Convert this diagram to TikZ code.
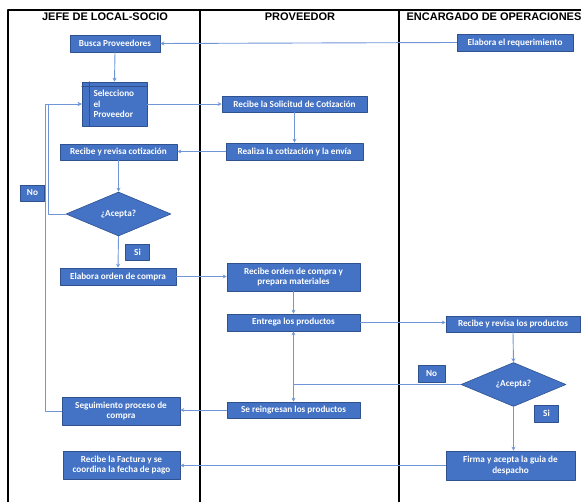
\documentclass[tikz,border=0pt]{standalone}
\usepackage{fontspec}
\setmainfont{Carlito}
\newfontfamily\headfont{Liberation Sans}
\usepackage{xcolor}
\usetikzlibrary{positioning,calc,shapes.geometric,arrows.meta}

\definecolor{boxblue}{RGB}{68,114,196}
\definecolor{boxedge}{RGB}{47,82,143}
\definecolor{linkblue}{RGB}{112,150,216}

\begin{document}
\begin{tikzpicture}[x=1pt,y=-1pt, font=\bfseries\fontsize{9.2}{10.5}\selectfont, line cap=round, line join=round]
		\useasboundingbox (0,0) rectangle (581,502);
		
		% ===== style =====
		\tikzset{
			proc/.style={draw=boxedge, fill=boxblue, text=white, line width=0.6pt, inner sep=1pt, align=center},
			lbl/.style={proc, minimum width=24, minimum height=16},
			dec/.style={proc, shape=diamond, minimum width=105, minimum height=44, inner sep=0pt},
			conn/.style={draw=linkblue, line width=0.9pt, -{Stealth[length=4pt,width=4pt]}},
			lane/.style={black, line width=2pt},
			title/.style={font=\headfont\bfseries\fontsize{11}{12}\selectfont}
		}
		
		% ===== carriles =====
		\draw[lane] (8,502) -- (8,10) -- (581,10);
		\draw[lane] (200,10) -- (200,502);
		\draw[lane] (399,10) -- (399,502);
		\node[title] (jefe) at (105,17) {JEFE DE LOCAL-SOCIO};
		\node[title] (prov) at (300,17) {PROVEEDOR};
		\node[title] (encarg) at (494,17) {ENCARGADO DE OPERACIONES};
		
		% ===== nodos =====
		\node[proc, minimum width=90, minimum height=17] (busca) at (115,43.5) {Busca Proveedores};
		\node[proc, minimum width=116, minimum height=17] (elabreq) at (515,42.5) {Elabora el requerimiento};
		\node[proc, minimum width=65, minimum height=44, text width=42, align=left] (selec) at (114.5,104) {Selecciono\\el\\Proveedor};
		\draw[boxedge, line width=0.6pt] ($(selec.north west)+(8,0)$) -- ($(selec.south west)+(8,0)$);
		\draw[boxedge, line width=0.6pt] ($(selec.north west)+(0,5)$) -- ($(selec.north east)+(0,5)$);
		\node[proc, minimum width=145, minimum height=16] (solic) at (294.5,104) {Recibe la Solicitud de Cotización};
		\node[proc, minimum width=137, minimum height=17] (realiza) at (294.5,151.5) {Realiza la cotización y la envía};
		\node[proc, minimum width=117, minimum height=16] (revcot) at (118.5,152) {Recibe y revisa cotización};
		\node[lbl] (no1) at (32.5,193) {No};
		\node[dec] (dia1) at (118.5,214) {¿Acepta?};
		\node[lbl] (si1) at (137.5,252) {Si};
		\node[proc, minimum width=116, minimum height=17] (elaorden) at (118,276.5) {Elabora orden de compra};
		\node[proc, minimum width=133, minimum height=28] (recorden) at (293.5,277) {Recibe orden de compra y\\prepara materiales};
		\node[proc, minimum width=133, minimum height=17] (entrega) at (293.5,322.5) {Entrega los productos};
		\node[proc, minimum width=134, minimum height=16] (revprod) at (513,324) {Recibe y revisa los productos};
		\node[lbl, minimum width=27, minimum height=17] (no2) at (431.5,373.5) {No};
		\node[dec] (dia2) at (513.5,384.5) {¿Acepta?};
		\node[lbl, minimum height=17] (si2) at (546.5,413.5) {Si};
		\node[proc, minimum width=133, minimum height=16] (reingr) at (293.5,410) {Se reingresan los productos};
		\node[proc, minimum width=118, minimum height=28] (seguim) at (121,411) {Seguimiento proceso de\\compra};
		\node[proc, minimum width=117, minimum height=28] (factura) at (121.5,465) {Recibe la Factura y se\\coordina la fecha de pago};
		\node[proc, minimum width=129, minimum height=29] (firma) at (510.5,465.5) {Firma y acepta la guia de\\despacho};
		
		% ===== conectores =====
		\draw[conn] (elabreq.west) -- (busca.east);
		\draw[conn] (busca.south) -- (selec.north);
		\draw[conn] (selec.east) -- (solic.west);
		\draw[conn] (solic.south) -- (realiza.north);
		\draw[conn] (realiza.west) -- (realiza.west -| revcot.east);
		\draw[conn] (revcot.south) -- (dia1.north);
		% no acepta: vuelve a seleccionar
		\draw[conn] (dia1.west) -- ++(-17,0) |- (selec.west);
		\draw[conn] (seguim.west) -- ++(-16,0) |- (selec.west);
		\draw[conn] (dia1.south) -- (elaorden.north);
		\draw[conn] (elaorden.east) -- (elaorden.east -| recorden.west);
		\draw[conn] (recorden.south) -- (entrega.north);
		\draw[conn] (entrega.east) -- (entrega.east -| revprod.west);
		\draw[conn] (revprod.south) -- (dia2.north);
		% no acepta: reingreso
		\coordinate (split) at (dia2.west -| entrega.south);
		\draw[conn] (dia2.west) -- (split) -- (entrega.south);
		\draw[conn] (split) -- (reingr.north);
		\draw[conn] (reingr.west) -- (reingr.west -| seguim.east);
		\draw[conn] (dia2.south) -- (dia2.south |- firma.north);
		\draw[conn] (firma.west) -- (firma.west -| factura.east);
		
	\end{tikzpicture}
\end{document}
